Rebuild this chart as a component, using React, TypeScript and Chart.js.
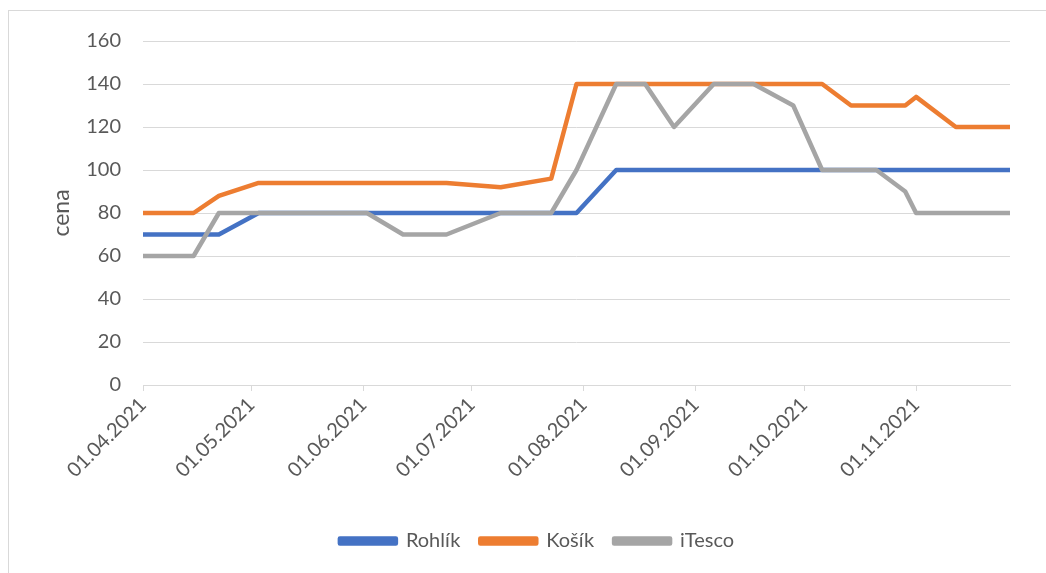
import { useEffect, useRef } from 'react';
import { Chart, registerables } from 'chart.js';

Chart.register(...registerables);

const dates = [
  '2021-04-01', '2021-04-15', '2021-04-22', '2021-05-03', '2021-06-02', '2021-06-12',
  '2021-06-24', '2021-07-09', '2021-07-23', '2021-07-30', '2021-08-10', '2021-08-18',
  '2021-08-26', '2021-09-06', '2021-09-17', '2021-09-28', '2021-10-06', '2021-10-14',
  '2021-10-21', '2021-10-29', '2021-11-01', '2021-11-12', '2021-11-27',
];
const rohlik = [70, 70, 70, 80, 80, 80, 80, 80, 80, 80, 100, 100, 100, 100, 100, 100, 100, 100, 100, 100, 100, 100, 100];
const kosik = [80, 80, 88, 94, 94, 94, 94, 92, 96, 140, 140, 140, 140, 140, 140, 140, 140, 130, 130, 130, 134, 120, 120];
const itesco = [60, 60, 80, 80, 80, 70, 70, 80, 80, 100, 140, 140, 120, 140, 140, 130, 100, 100, 100, 90, 80, 80, 80];

const tickDates = ['2021-04-01', '2021-05-01', '2021-06-01', '2021-07-01', '2021-08-01', '2021-09-01', '2021-10-01', '2021-11-01'];
const tickLabels = ['01.04.2021', '01.05.2021', '01.06.2021', '01.07.2021', '01.08.2021', '01.09.2021', '01.10.2021', '01.11.2021'];
const yTicks = [0, 20, 40, 60, 80, 100, 120, 140, 160];

const START = Date.parse(dates[0]);
const toDay = (s: string) => Math.round((Date.parse(s) - START) / 86400000);

const FAMILY = 'Lato, "Open Sans", sans-serif';
const font = (size: number) => ({ family: FAMILY, size });
const TEXT = '#595959';
const GRID = '#d9d9d9';
const LEGEND_CENTER_X = 537;

const legendShift = {
  id: 'legendShift',
  afterLayout(chart: any) {
    const l = chart.legend;
    if (!l) return;
    const dx = LEGEND_CENTER_X - (l.left + l.right) / 2;
    l.left += dx;
    l.right += dx;
  },
};

export default function App() {
  const ref = useRef<HTMLCanvasElement | null>(null);

  useEffect(() => {
    if (!ref.current) return;
    const xs = dates.map(toDay);
    const tickDays = tickDates.map(toDay);
    const mk = (label: string, vals: number[], color: string, order: number) => ({
      label,
      data: xs.map((x, i) => ({ x, y: vals[i] })),
      borderColor: color,
      backgroundColor: color,
      borderWidth: 4.5,
      pointRadius: 0,
      tension: 0,
      borderJoinStyle: 'round' as const,
      borderCapStyle: 'round' as const,
      order,
    });
    const chart = new Chart(ref.current, {
      type: 'line',
      data: {
        datasets: [
          mk('Rohlík', rohlik, '#4472C4', 2),
          mk('Košík', kosik, '#ED7D31', 1),
          mk('iTesco', itesco, '#A5A5A5', 0),
        ],
      },
      plugins: [legendShift],
      options: {
        responsive: false,
        animation: false,
        layout: { padding: { left: 0, right: 36, top: 41, bottom: 12 } },
        plugins: {
          tooltip: { enabled: false },
          legend: {
            position: 'bottom',
            labels: {
              boxWidth: 56,
              boxHeight: 5,
              font: font(20),
              color: TEXT,
              padding: 20,
              sort: (a: any, b: any) => a.datasetIndex - b.datasetIndex,
            },
          },
        },
        scales: {
          x: {
            type: 'linear',
            min: xs[0],
            max: xs[xs.length - 1],
            afterBuildTicks: (s: any) => {
              s.ticks = tickDays.map((v) => ({ value: v }));
            },
            afterFit: (s: any) => {
              s.height = 126;
            },
            ticks: {
              autoSkip: false,
              maxRotation: 45,
              minRotation: 45,
              font: font(20),
              color: TEXT,
              padding: 2,
              callback: (v: any) => {
                const i = tickDays.indexOf(Number(v));
                return i >= 0 ? tickLabels[i] : '';
              },
            },
            grid: { drawOnChartArea: false, color: GRID, tickLength: 6, lineWidth: 1 },
            border: { color: GRID, width: 1 },
          },
          y: {
            min: yTicks[0],
            max: yTicks[yTicks.length - 1],
            afterBuildTicks: (s: any) => {
              s.ticks = yTicks.map((v) => ({ value: v }));
            },
            afterFit: (s: any) => {
              s.width = 143;
            },
            ticks: { font: font(20), color: TEXT, padding: 22 },
            grid: { color: GRID, drawTicks: false, lineWidth: 1 },
            border: { display: false },
            title: {
              display: true,
              text: 'cena',
              font: font(23),
              color: TEXT,
              padding: { top: 48, bottom: 0 },
            },
          },
        },
      },
    });
    return () => chart.destroy();
  }, []);

  return (
    <div style={{ position: 'fixed', left: 0, top: 0, width: 1046, height: 573, overflow: 'hidden', background: '#fff' }}>
      <div
        style={{
          position: 'absolute',
          left: 8,
          top: 10,
          width: 1100,
          height: 700,
          border: '1px solid #d9d9d9',
          boxSizing: 'border-box',
        }}
      />
      <canvas ref={ref} width={1046} height={573} style={{ position: 'absolute', left: 0, top: 0, width: 1046, height: 573 }} />
    </div>
  );
}
